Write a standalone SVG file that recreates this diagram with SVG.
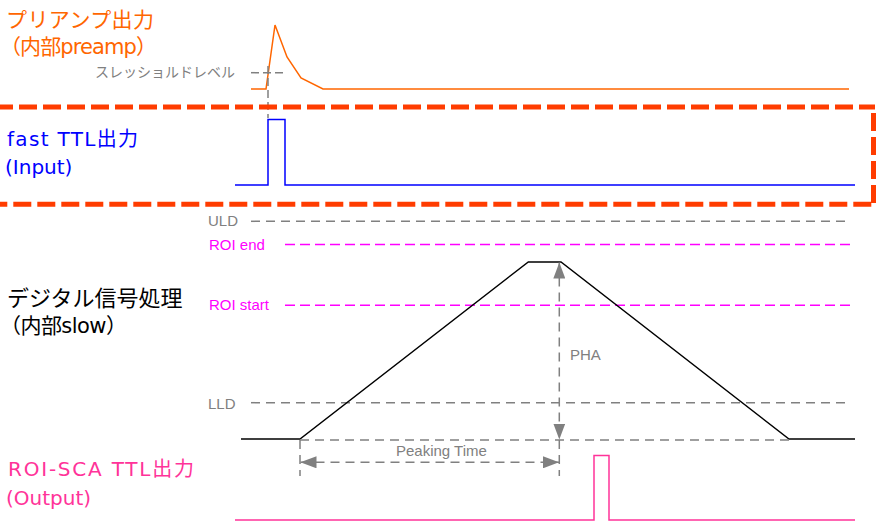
<svg xmlns="http://www.w3.org/2000/svg" width="876" height="521" viewBox="0 0 876 521">
<style>
.big{font-family:"DejaVu Sans","Noto Sans CJK JP",sans-serif;}
.cjk{font-family:"Noto Sans CJK JP",sans-serif;}
.lbl{font-family:"Liberation Sans","Noto Sans CJK JP",sans-serif;font-size:15px;}
.gray{fill:#808080;}
.mag{fill:#ff00ff;}
.gdash{stroke:#808080;stroke-width:1.5;stroke-dasharray:9 6;fill:none;}
.mdash{stroke:#ff00ff;stroke-width:1.5;stroke-dasharray:10 5;fill:none;}
.box{stroke:#ff3c00;stroke-width:5;stroke-dasharray:18 6;fill:none;}
</style>
<defs>
<marker id="arr" markerUnits="userSpaceOnUse" markerWidth="16" markerHeight="12" refX="16" refY="6" orient="auto-start-reverse">
<path d="M0,0 L16,6 L0,12 z" fill="#808080"/>
</marker>
</defs>

<g id="preamp">
<text class="cjk" x="6" y="26.5" font-size="21" fill="#ff6600" textLength="148">プリアンプ出力</text>
<text class="big" x="0" y="54" font-size="21" fill="#ff6600" textLength="157" lengthAdjust="spacing">（内部preamp）</text>
<text class="cjk gray" x="95" y="77" font-size="14">スレッショルドレベル</text>
<polyline points="251,89 266,89 275,25 287,57 301,78 323,89 849,89" fill="none" stroke="#ff6600" stroke-width="1.5"/>
</g>

<g id="threshold">
<line x1="251" y1="72.7" x2="285" y2="72.7" stroke="#808080" stroke-width="1.5" stroke-dasharray="8 4"/>
<line x1="268" y1="66" x2="268" y2="118" stroke="#808080" stroke-width="1.5" stroke-dasharray="8 4"/>
</g>

<g id="fast-ttl">
<text class="big" x="7" y="146" font-size="20" fill="#0000ff" textLength="131" lengthAdjust="spacing">fast TTL出力</text>
<text class="big" x="5" y="174" font-size="20" fill="#0000ff">(Input)</text>
<polyline points="235,185 268,185 268,119.5 285,119.5 285,185 855,185" fill="none" stroke="#0000ff" stroke-width="1.5"/>
</g>

<g id="input-box">
<line class="box" x1="0" y1="107" x2="875" y2="107" stroke-dashoffset="5"/>
<line class="box" x1="873.5" y1="107" x2="873.5" y2="204" stroke-dashoffset="-6"/>
<line class="box" x1="0" y1="204.3" x2="875" y2="204.3" stroke-dashoffset="10.7"/>
</g>

<g id="levels">
<text class="lbl gray" x="208" y="226">ULD</text>
<line class="gdash" x1="251" y1="221.3" x2="845" y2="221.3"/>
<text class="lbl mag" x="209" y="249.5">ROI end</text>
<line class="mdash" x1="285" y1="244.5" x2="851" y2="244.5"/>
<text class="lbl mag" x="209" y="309.5">ROI start</text>
<line class="mdash" x1="285" y1="305.2" x2="851" y2="305.2"/>
<text class="lbl gray" x="208" y="408.5">LLD</text>
<line class="gdash" x1="251" y1="402.7" x2="847" y2="402.7"/>
</g>

<g id="slow">
<text class="cjk" x="7" y="306" font-size="22" fill="#000000">デジタル信号処理</text>
<text class="big" x="0" y="333" font-size="21" fill="#000000" textLength="127" lengthAdjust="spacing">（内部slow）</text>
<polyline points="241,439 300,439 528.3,262 561,262 789,439 855,439" fill="none" stroke="#000000" stroke-width="1.4"/>
</g>

<g id="connectors">
<line class="gdash" x1="300" y1="440" x2="789" y2="440"/>
<line class="gdash" x1="559.3" y1="262.5" x2="559.3" y2="439.5" marker-start="url(#arr)" marker-end="url(#arr)"/>
<line class="gdash" x1="559.3" y1="440" x2="559.3" y2="476"/>
<line class="gdash" x1="300" y1="440" x2="300" y2="476"/>
<line class="gdash" x1="300.5" y1="462.3" x2="559" y2="462.3" marker-start="url(#arr)" marker-end="url(#arr)"/>
<text class="lbl gray" x="570" y="360">PHA</text>
<text class="lbl gray" x="396" y="456">Peaking Time</text>
</g>

<g id="roi-sca">
<text class="big" x="8" y="476" font-size="20" fill="#ff3399" textLength="186" lengthAdjust="spacing">ROI-SCA TTL出力</text>
<text class="big" x="6" y="505" font-size="20" fill="#ff3399">(Output)</text>
<polyline points="235,520 594,520 594,455.5 609,455.5 609,520 855,520" fill="none" stroke="#ff3399" stroke-width="1.5"/>
</g>
</svg>
